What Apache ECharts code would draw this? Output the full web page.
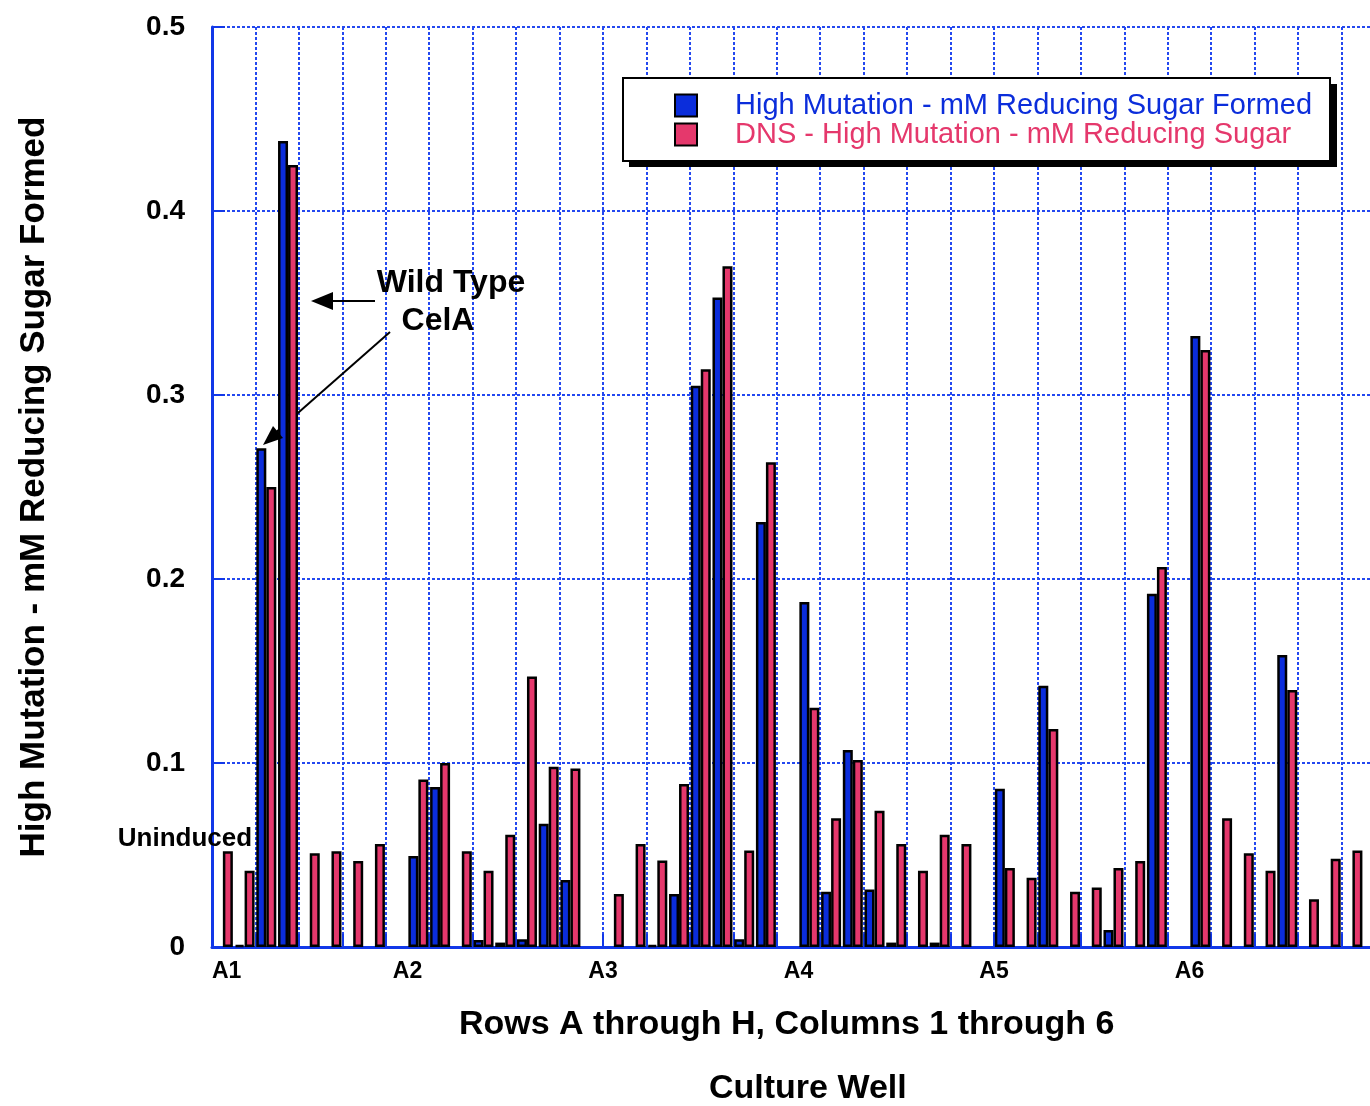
<!DOCTYPE html>
<html>
<head>
<meta charset="utf-8">
<script src="https://cdn.jsdelivr.net/npm/echarts@6/dist/echarts.min.js"></script>
<style>
body{margin:0;background:#fff;}
#main{width:1370px;height:1106px;}
</style>
</head>
<body>
<div id="main"></div>
<script>
var rows = ['A','B','C','D','E','F','G','H'];
var cols = [1,2,3,4,5,6];
var xLabels = ['A1','A2','A3','A4','A5','A6'];
// blue: High Mutation, 8 wells per column (A..H), null = no bar
var highMut = [
  null, 0.001, 0.271, 0.438, null, null, null, null,
  0.0495, 0.087, null, 0.0038, 0.0024, 0.0042, 0.067, 0.0364,
  null, null, 0.001, 0.0288, 0.305, 0.353, 0.0042, 0.231,
  0.1875, 0.030, 0.107, 0.0313, 0.0024, null, 0.0024, null,
  0.086, null, 0.142, null, null, 0.0092, null, 0.192,
  0.332, null, null, null, 0.1587, null, null, null
];
// pink: DNS - High Mutation
var dnsMut = [
  0.052, 0.0415, 0.250, 0.425, 0.051, 0.052, 0.0467, 0.056,
  0.091, 0.100, 0.052, 0.0415, 0.061, 0.147, 0.098, 0.097,
  0.0288, 0.056, 0.047, 0.0886, 0.314, 0.370, 0.0524, 0.2635,
  0.130, 0.070, 0.1016, 0.074, 0.056, 0.0415, 0.061, 0.056,
  0.043, 0.0377, 0.1185, 0.030, 0.0324, 0.043, 0.0467, 0.2065,
  0.3245, 0.070, 0.051, 0.0415, 0.1397, 0.026, 0.048, 0.0524
];
var blue = '#0b2ddb', pink = '#e5386c', gridBlue = '#2448f0';
var ff = '"Liberation Sans", Arial, sans-serif';

// one empty slot after each column of 8 wells
var cats = [], blueData = [], pinkData = [];
cols.forEach(function(c, ci){
  rows.forEach(function(r, ri){
    cats.push(r + c);
    blueData.push(highMut[ci*8 + ri]);
    pinkData.push(dnsMut[ci*8 + ri]);
  });
  cats.push('gap' + c);
  blueData.push(null);
  pinkData.push(null);
});

var chart = echarts.init(document.getElementById('main'));
var option = {
  backgroundColor: '#fff',
  animation: false,
  title: [
    {text: 'Rows A through H, Columns 1 through 6', left: 454, top: 1003,
     textStyle: {fontSize: 34, fontWeight: 'bold', color: '#000', fontFamily: ff}},
    {text: 'Culture Well', left: 704, top: 1067,
     textStyle: {fontSize: 34, fontWeight: 'bold', color: '#000', fontFamily: ff}}
  ],
  legend: {
    orient: 'vertical', left: 623, top: 78,
    itemWidth: 22, itemHeight: 22, itemGap: 0,
    padding: [13, 18, 12, 51],
    backgroundColor: '#fff', borderColor: '#000', borderWidth: 2,
    icon: 'rect',
    itemStyle: {borderColor: '#000', borderWidth: 2},
    textStyle: {fontSize: 29, fontFamily: ff, padding: [0, 0, 0, 33]},
    data: [
      {name: 'High Mutation - mM Reducing Sugar Formed', textStyle: {color: blue}},
      {name: 'DNS - High Mutation - mM Reducing Sugar', textStyle: {color: pink}}
    ]
  },
  grid: {left: 212, top: 27, width: 1173, height: 920, outerBoundsMode: 'none', containLabel: false},
  xAxis: [
    {
      type: 'category', data: cats, boundaryGap: true, position: 'bottom',
      axisLine: {lineStyle: {color: '#1238e8', width: 3}},
      axisTick: {show: true, inside: true, length: 13, interval: 1, lineStyle: {color: '#1238e8', width: 2}},
      axisLabel: {show: false},
      splitLine: {show: true, interval: 1, lineStyle: {color: gridBlue, width: 2, type: [3, 2]}}
    },
    {
      type: 'value', min: 0, max: 54, interval: 9, position: 'bottom',
      axisLine: {show: false}, axisTick: {show: false}, splitLine: {show: false},
      axisLabel: {
        margin: 13, fontSize: 23, fontWeight: 'bold', color: '#000', fontFamily: ff,
        alignMinLabel: 'left',
        formatter: function(v){ return xLabels[Math.round(v/9)] || ''; }
      }
    }
  ],
  yAxis: {
    type: 'value', min: 0, max: 0.5, interval: 0.1,
    name: 'High Mutation - mM Reducing Sugar Formed',
    nameLocation: 'middle', nameGap: 160,
    nameTextStyle: {fontSize: 35, fontWeight: 'bold', color: '#000', fontFamily: ff},
    axisLine: {show: true, lineStyle: {color: '#1238e8', width: 3}},
    axisTick: {show: true, inside: true, length: 13, lineStyle: {color: '#1238e8', width: 2}},
    axisLabel: {
      margin: 27, fontSize: 28, fontWeight: 'bold', color: '#000', fontFamily: ff,
      formatter: function(v){ return v === 0 ? '0' : v.toFixed(1); }
    },
    splitLine: {show: true, lineStyle: {color: gridBlue, width: 2, type: [3, 2]}}
  },
  series: [
    {
      name: 'High Mutation - mM Reducing Sugar Formed', type: 'bar', xAxisIndex: 0,
      data: blueData, barWidth: 10, barGap: '0%',
      itemStyle: {color: blue, borderColor: '#000', borderWidth: 2.5}
    },
    {
      name: 'DNS - High Mutation - mM Reducing Sugar', type: 'bar', xAxisIndex: 0,
      data: pinkData, barWidth: 10, barGap: '0%',
      itemStyle: {color: pink, borderColor: '#000', borderWidth: 2.5}
    }
  ],
  graphic: [
    // legend drop shadow
    {type: 'rect', z: 3, shape: {x: 629, y: 84, width: 708, height: 83}, style: {fill: '#000'}},
    {type: 'line', z: 1, shape: {x1: 390, y1: 332, x2: 274, y2: 434}, style: {stroke: '#000', lineWidth: 2}},
    {type: 'polygon', z: 20, shape: {points: [[263, 445], [283, 438], [273, 426]]}, style: {fill: '#000'}},
    {type: 'line', z: 20, shape: {x1: 375, y1: 301, x2: 330, y2: 301}, style: {stroke: '#000', lineWidth: 2}},
    {type: 'polygon', z: 20, shape: {points: [[311, 301], [333, 292], [333, 310]]}, style: {fill: '#000'}},
    {type: 'text', z: 20, x: 451, y: 283, style: {text: 'Wild Type', font: 'bold 32px ' + ff, fill: '#000',
      textAlign: 'center', textVerticalAlign: 'middle', align: 'center', verticalAlign: 'middle'}},
    {type: 'text', z: 20, x: 438, y: 321, style: {text: 'CelA', font: 'bold 32px ' + ff, fill: '#000',
      textAlign: 'center', textVerticalAlign: 'middle', align: 'center', verticalAlign: 'middle'}},
    {type: 'text', z: 20, x: 185, y: 839, style: {text: 'Uninduced', font: 'bold 26px ' + ff, fill: '#000',
      textAlign: 'center', textVerticalAlign: 'middle', align: 'center', verticalAlign: 'middle'}}
  ]
};
chart.setOption(option);
</script>
</body>
</html>
